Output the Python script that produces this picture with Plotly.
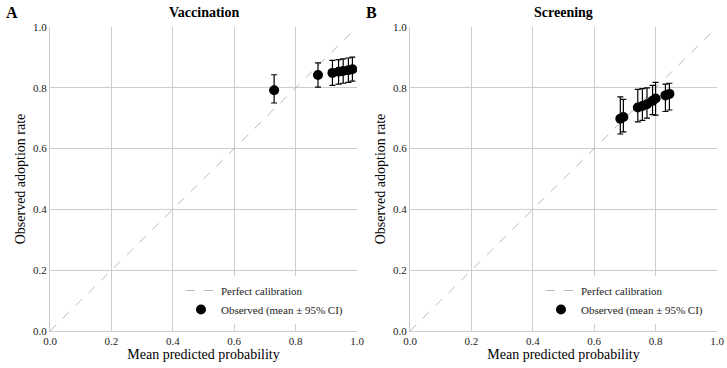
import plotly.graph_objects as go

# Vaccination calibration bins
vac_pred = [0.73, 0.873, 0.92, 0.94, 0.955, 0.972, 0.985]
vac_obs = [0.792, 0.842, 0.849, 0.853, 0.855, 0.858, 0.861]
vac_lo = [0.750, 0.802, 0.808, 0.812, 0.815, 0.818, 0.822]
vac_hi = [0.843, 0.882, 0.890, 0.893, 0.895, 0.898, 0.901]

# Screening calibration bins
scr_pred = [0.685, 0.695, 0.742, 0.757, 0.772, 0.79, 0.80, 0.832, 0.845]
scr_obs = [0.698, 0.704, 0.735, 0.740, 0.746, 0.757, 0.765, 0.775, 0.780]
scr_lo = [0.648, 0.655, 0.688, 0.693, 0.700, 0.712, 0.710, 0.722, 0.727]
scr_hi = [0.770, 0.762, 0.795, 0.797, 0.800, 0.808, 0.818, 0.812, 0.815]

ticks = [0.0, 0.2, 0.4, 0.6, 0.8, 1.0]
tick_text = ["0.0", "0.2", "0.4", "0.6", "0.8", "1.0"]
titles = ["Vaccination", "Screening"]
panel_labels = ["A", "B"]

FONT = "Liberation Serif, Times New Roman, serif"

fig = go.Figure()

panels = [
    (vac_pred, vac_obs, vac_lo, vac_hi),
    (scr_pred, scr_obs, scr_lo, scr_hi),
]
xdomains = [[50 / 727, 357 / 727], [410 / 727, 717 / 727]]
ydomain = [37 / 368, 341 / 368]

for i, (px, py, lo, hi) in enumerate(panels):
    xa = "x" if i == 0 else "x2"
    ya = "y" if i == 0 else "y2"
    lg = "legend" if i == 0 else "legend2"
    fig.add_trace(go.Scatter(
        x=[0, 1], y=[0, 1], mode="lines", xaxis=xa, yaxis=ya,
        line=dict(color="#b8b8b8", width=1, dash="dash"),
        name="Perfect calibration", legend=lg, hoverinfo="skip",
    ))
    fig.add_trace(go.Scatter(
        x=px, y=py, mode="markers", xaxis=xa, yaxis=ya,
        marker=dict(color="black", size=10),
        error_y=dict(type="data", symmetric=False,
                     array=[h - o for h, o in zip(hi, py)],
                     arrayminus=[o - l for o, l in zip(py, lo)],
                     color="black", thickness=1.2, width=3),
        name="Observed (mean ± 95% CI)", legend=lg,
    ))

axis_common = dict(
    range=[0, 1], tickvals=ticks, ticktext=tick_text, automargin=False,
    showgrid=True, gridcolor="#cccccc", gridwidth=1,
    zeroline=False, showline=True, linecolor="#cccccc", linewidth=1,
    ticks="", tickfont=dict(family=FONT, size=11, color="#222"),
    title_font=dict(family=FONT, size=14, color="black"),
)

for i in range(2):
    sx = "" if i == 0 else "2"
    fig.update_layout(**{
        f"xaxis{sx}": dict(axis_common, domain=xdomains[i], anchor=f"y{sx}",
                           title=dict(text="Mean predicted probability", standoff=2)),
        f"yaxis{sx}": dict(axis_common, domain=ydomain, anchor=f"x{sx}",
                           title=dict(text="Observed adoption rate", standoff=4)),
    })

annotations = []
for i in range(2):
    cx = (xdomains[i][0] + xdomains[i][1]) / 2
    annotations.append(dict(
        text=f"<b>{titles[i]}</b>", x=cx, y=1 - 13 / 368, xref="paper", yref="paper",
        showarrow=False, xanchor="center", yanchor="middle",
        font=dict(family=FONT, size=14, color="black")))
    annotations.append(dict(
        text=f"<b>{panel_labels[i]}</b>", x=(4 if i == 0 else 364) / 727, y=1 - 12 / 368,
        xref="paper", yref="paper", showarrow=False, xanchor="left", yanchor="middle",
        font=dict(family=FONT, size=16, color="black")))

legend_common = dict(
    bgcolor="white", borderwidth=0,
    font=dict(family=FONT, size=11, color="#222"),
    xanchor="right", yanchor="bottom", tracegroupgap=0, itemwidth=30,
)

fig.update_layout(
    width=727, height=368,
    margin=dict(l=0, r=0, t=0, b=0),
    paper_bgcolor="white", plot_bgcolor="white",
    showlegend=True,
    legend=dict(legend_common, x=348 / 727, y=(368 - 324) / 368),
    legend2=dict(legend_common, x=708 / 727, y=(368 - 324) / 368),
    annotations=annotations,
)

fig.write_html("out.html")
